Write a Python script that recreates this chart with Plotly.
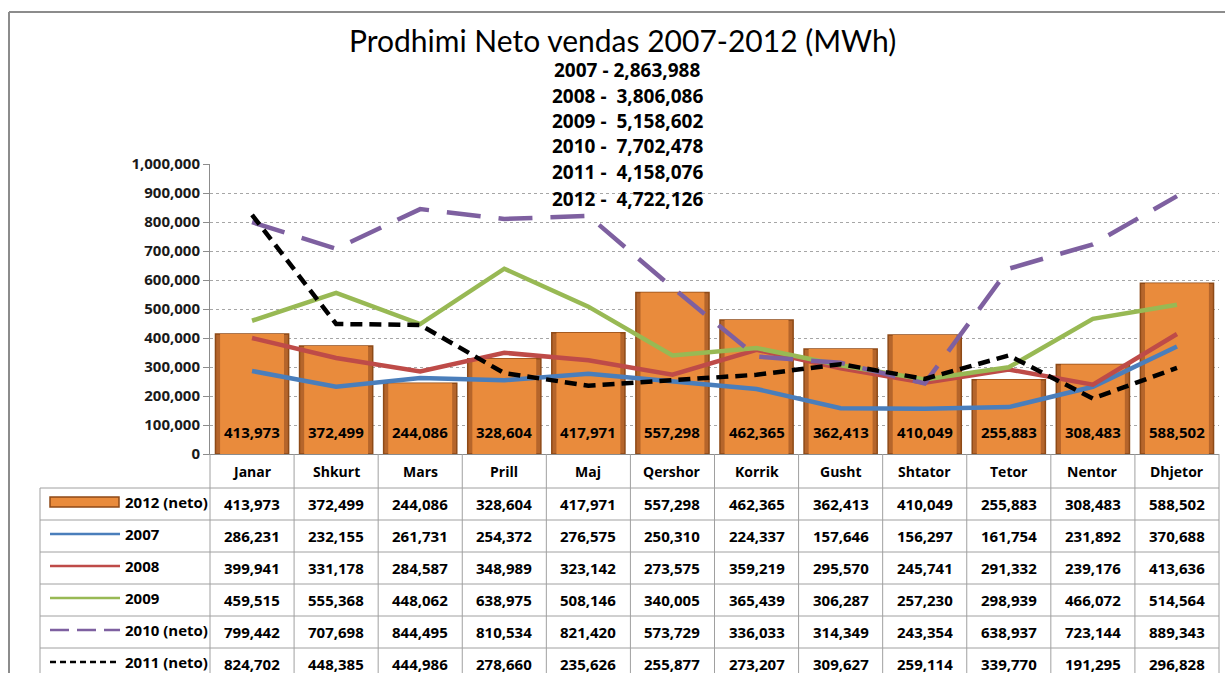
import plotly.graph_objects as go

# ---------------- data ----------------
months = ["Janar", "Shkurt", "Mars", "Prill", "Maj", "Qershor", "Korrik",
          "Gusht", "Shtator", "Tetor", "Nentor", "Dhjetor"]
v2012 = [413973, 372499, 244086, 328604, 417971, 557298, 462365, 362413, 410049, 255883, 308483, 588502]
v2007 = [286231, 232155, 261731, 254372, 276575, 250310, 224337, 157646, 156297, 161754, 231892, 370688]
v2008 = [399941, 331178, 284587, 348989, 323142, 273575, 359219, 295570, 245741, 291332, 239176, 413636]
v2009 = [459515, 555368, 448062, 638975, 508146, 340005, 365439, 306287, 257230, 298939, 466072, 514564]
v2010 = [799442, 707698, 844495, 810534, 821420, 573729, 336033, 314349, 243354, 638937, 723144, 889343]
v2011 = [824702, 448385, 444986, 278660, 235626, 255877, 273207, 309627, 259114, 339770, 191295, 296828]
series_names = ["2012 (neto)", "2007", "2008", "2009", "2010 (neto)", "2011 (neto)"]
totals = ["2007 - 2,863,988", "2008 -  3,806,086", "2009 -  5,158,602",
          "2010 -  7,702,478", "2011 -  4,158,076", "2012 -  4,722,126"]
title_text = "Prodhimi Neto vendas 2007-2012 (MWh)"
y_ticks = list(range(0, 1000001, 100000))

# ---------------- styles ----------------
TFONT = "Lato"
NFONT = "Open Sans"
BAR_FILL = "#E98B3C"
BAR_EDGE = "#8E4A17"
BAR_SIDE = "#B5652B"
line_styles = [
    ("2007", v2007, "#4A7EBB", "solid", "solid"),
    ("2008", v2008, "#BE4B48", "solid", "solid"),
    ("2009", v2009, "#98B954", "solid", "solid"),
    ("2010 (neto)", v2010, "#7E60A0", "34px,18px", "19px,8px"),
    ("2011 (neto)", v2011, "#000000", "12px,7px", "6px,4px"),
]
GRID = "#A6A6A6"
BORDER = "#A0A0A0"
NUMFONT = dict(family=NFONT, size=15, color="black", weight="bold")

FW, FH = 1225, 673
L, R, T, B = 210, 6, 164, 219
W = FW - L - R
H = FH - T - B


def fx(px):
    return (px - L) / W


def fy(py):
    return (FH - B - py) / H


fig = go.Figure()

# bars: darker outer body + lighter inner face (bevel look)
fig.add_trace(go.Bar(
    x=months, y=v2012, name=series_names[0], width=0.87,
    marker=dict(color=BAR_SIDE, line=dict(color=BAR_EDGE, width=1.5)),
))
fig.add_trace(go.Bar(
    x=months, y=v2012, name=series_names[0], width=0.76, hoverinfo="skip",
    marker=dict(color=BAR_FILL, line=dict(width=0)),
))

for name, vals, color, dash, _ in line_styles:
    fig.add_trace(go.Scatter(
        x=months, y=vals, name=name, mode="lines",
        line=dict(color=color, width=4.5, dash=dash),
    ))

shapes = []
annotations = []


def note(x, y, text, font, xref="paper", xanchor="center"):
    annotations.append(dict(x=x, xref=xref, y=y, yref="paper", text=text, showarrow=False,
                            xanchor=xanchor, yanchor="middle", font=font))


# outer chart border
shapes.append(dict(type="line", xref="paper", yref="paper", x0=fx(9), x1=fx(9), y0=fy(12), y1=fy(700),
                   line=dict(color="#8C8C8C", width=2)))
shapes.append(dict(type="line", xref="paper", yref="paper", x0=fx(9), x1=fx(1240), y0=fy(12), y1=fy(12),
                   line=dict(color="#8C8C8C", width=2)))

# data table grid
row_tops = [488, 520, 552, 584, 616, 648]
row_h = 32
for yb in row_tops:
    shapes.append(dict(type="line", xref="paper", yref="paper", x0=fx(40), x1=1, y0=fy(yb), y1=fy(yb),
                       line=dict(color=BORDER, width=1)))
shapes.append(dict(type="line", xref="paper", yref="paper", x0=fx(40), x1=fx(40), y0=fy(488), y1=fy(690),
                   line=dict(color=BORDER, width=1)))
n = len(months)
for i in range(n + 1):
    shapes.append(dict(type="line", xref="paper", yref="paper", x0=i / n, x1=i / n, y0=0, y1=fy(690),
                       line=dict(color=BORDER, width=1)))

# month labels
for m in months:
    note(m, fy(471), m, dict(family=NFONT, size=14, color="black", weight="bold"), xref="x")

# value labels at the foot of each bar
for m, v in zip(months, v2012):
    note(m, fy(432), f"{v:,}", NUMFONT, xref="x")

# table values and legend labels
all_series = [v2012, v2007, v2008, v2009, v2010, v2011]
for r, vals in enumerate(all_series):
    yc = row_tops[r] + row_h / 2 - 0.5
    for m, v in zip(months, vals):
        note(m, fy(yc), f"{v:,}", NUMFONT, xref="x")
    note(fx(123), fy(yc - 2), series_names[r], dict(family=NFONT, size=15, color="black", weight="bold"),
         xanchor="left")

# legend keys
yc0 = row_tops[0] + row_h / 2
shapes.append(dict(type="rect", xref="paper", yref="paper", x0=fx(50), x1=fx(119),
                   y0=fy(yc0 - 7), y1=fy(yc0 + 3), fillcolor=BAR_FILL, line=dict(color=BAR_EDGE, width=1.5)))
for k, (name, vals, color, _, kdash) in enumerate(line_styles):
    yc = row_tops[k + 1] + row_h / 2 - 2
    shapes.append(dict(type="line", xref="paper", yref="paper", x0=fx(50), x1=fx(120),
                       y0=fy(yc), y1=fy(yc), line=dict(color=color, width=2.5, dash=kdash)))

# title and totals
note(fx(622), fy(40), title_text, dict(family=TFONT, size=30, color="black"))
tot_y = [70, 96, 121, 146, 172, 199]
for t, yy in zip(totals, tot_y):
    note(fx(627), fy(yy), t, dict(family=NFONT, size=19, color="black", weight="bold"))

fig.update_layout(
    width=FW, height=FH,
    margin=dict(l=L, r=R, t=T, b=B, pad=0),
    paper_bgcolor="white", plot_bgcolor="white",
    showlegend=False, barmode="overlay",
    shapes=shapes, annotations=annotations,
    font=dict(family=NFONT, color="black"),
)
fig.update_xaxes(type="category", range=[-0.5, 11.5], showticklabels=False, ticks="",
                 showline=True, linecolor="#8C8C8C", linewidth=1, showgrid=False, zeroline=False)
fig.update_yaxes(range=[0, 1000000], tickvals=y_ticks, tickformat=",", showgrid=True, gridcolor=GRID,
                 griddash="dot", gridwidth=1, showline=True, linecolor="#8C8C8C", linewidth=1,
                 ticks="outside", ticklen=6, tickcolor="#8C8C8C", zeroline=False,
                 tickfont=dict(family=NFONT, size=15, color="#1a1a1a", weight="bold"))

fig.write_html("out.html", config={"displayModeBar": False},
               post_script="document.body.style.margin='0px';")
